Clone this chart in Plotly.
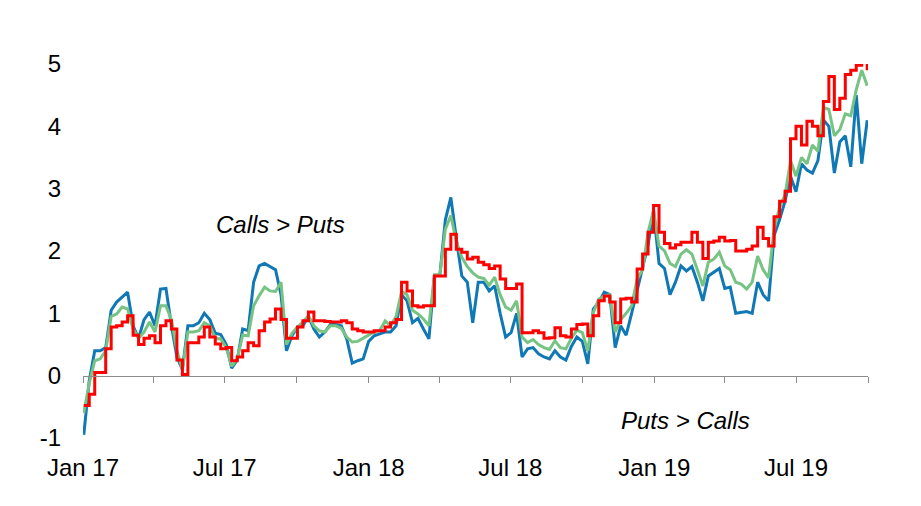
import plotly.graph_objects as go
import pandas as pd

# weekly observation dates (Mondays) from Jan 2017 to end Sep 2019
dates = pd.date_range("2017-01-02", periods=144, freq="7D")

blue_vals = [
    -0.95, -0.08, 0.4, 0.4, 0.45, 1.05, 1.18, 1.26, 1.34, 0.8,
    0.6, 0.9, 1.02, 0.8, 1.39, 1.4, 0.8, 0.3, 0.1, 0.8,
    0.8, 0.85, 1.0, 0.9, 0.68, 0.66, 0.5, 0.12, 0.25, 0.75,
    0.72, 1.5, 1.76, 1.8, 1.75, 1.7, 1.3, 0.4, 0.64, 0.78,
    0.8, 0.95, 0.75, 0.62, 0.7, 0.82, 0.82, 0.8, 0.59, 0.2,
    0.24, 0.27, 0.55, 0.64, 0.67, 0.7, 0.7, 0.8, 1.3, 1.2,
    0.85, 0.92, 0.75, 0.59, 1.6, 1.62, 2.5, 2.86, 2.2, 1.6,
    1.5, 0.85, 1.5, 1.5, 1.36, 1.44, 1.0, 0.62, 0.69, 1.0,
    0.3, 0.43, 0.45, 0.35, 0.3, 0.27, 0.4, 0.3, 0.25, 0.47,
    0.62, 0.55, 0.19, 1.07, 1.18, 1.34, 1.3, 0.45, 0.8, 0.65,
    1.0, 1.36, 1.75, 2.1, 2.65, 1.8, 1.72, 1.3, 1.5, 1.76,
    1.68, 1.75, 1.5, 1.2, 1.6, 1.66, 1.72, 1.4, 1.42, 1.0,
    1.01, 1.03, 1.0, 1.5, 1.3, 1.2, 2.25, 2.5, 2.8, 3.2,
    2.95, 3.4, 3.3, 3.25, 3.45, 4.1, 4.0, 3.25, 3.75, 3.85,
    3.35, 4.5, 3.4, 4.1,
]

green_vals = [
    -0.6, -0.12, 0.24, 0.27, 0.4, 0.95, 0.99, 1.1, 1.07, 0.75,
    0.6, 0.7, 0.86, 0.7, 1.12, 1.12, 0.9, 0.4, 0.1, 0.7,
    0.7, 0.72, 0.85, 0.8, 0.6, 0.59, 0.45, 0.15, 0.27, 0.65,
    0.64, 1.12, 1.28, 1.42, 1.36, 1.35, 1.5, 0.5, 0.68, 0.78,
    0.86, 0.96, 0.8, 0.72, 0.7, 0.8, 0.8, 0.76, 0.62, 0.54,
    0.55, 0.6, 0.66, 0.7, 0.72, 0.88, 0.8, 0.95, 1.35, 1.3,
    1.05, 0.99, 0.91, 0.8, 1.62, 1.62, 2.35, 2.57, 2.15, 1.9,
    1.75, 1.65, 1.58, 1.56, 1.45, 1.58, 1.3, 1.1, 1.05, 1.2,
    0.62, 0.53, 0.58, 0.5, 0.45, 0.42, 0.56, 0.45, 0.43, 0.6,
    0.73, 0.69, 0.4, 1.01, 1.23, 1.28, 1.3, 0.7, 0.9, 1.0,
    1.12, 1.55, 1.7, 2.3, 2.65, 2.08, 2.0, 1.8, 1.75, 1.95,
    2.02, 1.95, 1.7, 1.44, 1.82, 1.87, 1.98, 1.76, 1.7, 1.5,
    1.47, 1.39, 1.5, 1.92, 1.7, 1.57, 2.35, 2.7, 2.9, 3.45,
    3.2, 3.5, 3.4, 3.7, 3.6, 4.3, 4.27, 3.85, 3.95, 4.2,
    4.17, 4.59, 4.9, 4.65,
]

red_vals = [
    -0.48, -0.3, 0.05, 0.05, 0.43, 0.78, 0.8, 0.86, 0.96, 0.65,
    0.5, 0.6, 0.64, 0.53, 0.8, 0.88, 0.75, 0.25, 0.02, 0.53,
    0.53, 0.62, 0.78, 0.62, 0.51, 0.43, 0.45, 0.24, 0.3, 0.4,
    0.53, 0.48, 0.72, 0.86, 0.91, 1.07, 0.9, 0.6, 0.6, 0.78,
    0.88, 1.02, 0.88, 0.88, 0.87, 0.86, 0.86, 0.88, 0.85, 0.75,
    0.72, 0.7, 0.7, 0.72, 0.72, 0.78, 0.85, 0.9, 1.5, 1.36,
    1.12, 1.1, 1.12, 1.12, 1.6, 1.6, 2.03, 2.27, 2.03, 1.98,
    1.87, 1.9, 1.82, 1.78, 1.72, 1.76, 1.55, 1.4, 1.4, 1.47,
    0.69, 0.69, 0.72, 0.69, 0.6, 0.61, 0.77, 0.64, 0.62, 0.75,
    0.82, 0.83, 0.64, 0.96, 1.2, 1.28, 1.18, 0.85, 1.23, 1.24,
    1.18, 1.71, 1.95, 2.3, 2.73, 2.3, 2.12, 2.05, 2.1, 2.14,
    2.14, 2.3, 2.14, 1.88, 2.14, 2.16, 2.22, 2.16, 2.17, 2.0,
    2.0, 2.03, 2.08, 2.38, 2.2, 2.08, 2.55, 2.8, 2.96, 3.8,
    4.0, 3.7, 4.08, 4.0, 3.85, 4.4, 4.8, 4.27, 4.45, 4.83,
    4.9, 4.98, 5.05, 4.9,
]

y_ticks = [-1, 0, 1, 2, 3, 4, 5]
y_tick_labels = ["-1", "0", "1", "2", "3", "4", "5"]
x_range = ["2017-01-01", "2019-10-01"]

FONT = "Arial, Liberation Sans, sans-serif"
FS = 24

fig = go.Figure()
fig.add_trace(go.Scatter(x=dates, y=blue_vals, mode="lines",
                         line=dict(color="#1078B4", width=3), showlegend=False))
fig.add_trace(go.Scatter(x=dates, y=green_vals, mode="lines",
                         line=dict(color="#77C383", width=3), showlegend=False))
fig.add_trace(go.Scatter(x=dates, y=red_vals, mode="lines",
                         line=dict(color="#FF0000", width=3, shape="hv"), showlegend=False))
# dummy trace to host the zero-line axis
fig.add_trace(go.Scatter(x=[], y=[], xaxis="x2", showlegend=False, hoverinfo="skip"))

fig.update_layout(
    width=921, height=506,
    margin=dict(l=75, r=61, t=56, b=76),
    paper_bgcolor="white", plot_bgcolor="white",
    font=dict(family=FONT, size=FS, color="#000000"),
    xaxis=dict(
        type="date", range=x_range, tick0="2017-01-01", dtick="M6",
        tickformat="%b %y", showgrid=False, zeroline=False, showline=False,
        ticks="", ticklabelstandoff=13,
        tickfont=dict(family=FONT, size=FS, color="#000000"),
    ),
    xaxis2=dict(
        type="date", range=x_range, overlaying="x", anchor="free",
        position=1 / 6, side="bottom", tick0="2017-01-01", dtick="M3",
        showticklabels=False, showgrid=False, zeroline=False,
        showline=True, linecolor="#8C8C8C", linewidth=1,
        ticks="outside", ticklen=6, tickcolor="#8C8C8C", tickwidth=1,
    ),
    yaxis=dict(
        range=[-1, 5], tickvals=y_ticks, ticktext=y_tick_labels,
        showgrid=False, zeroline=False,
        showline=False, ticks="", ticklabelstandoff=21,
        tickfont=dict(family=FONT, size=FS, color="#000000"),
    ),
    annotations=[
        dict(text="<i>Calls > Puts</i>", xref="paper", yref="paper",
             x=0.251, y=0.572, xanchor="center", yanchor="middle", showarrow=False,
             font=dict(family=FONT, size=FS, color="#000000")),
        dict(text="<i>Puts > Calls</i>", xref="paper", yref="paper",
             x=0.768, y=0.048, xanchor="center", yanchor="middle", showarrow=False,
             font=dict(family=FONT, size=FS, color="#000000")),
    ],
)

fig.write_html("out.html")
